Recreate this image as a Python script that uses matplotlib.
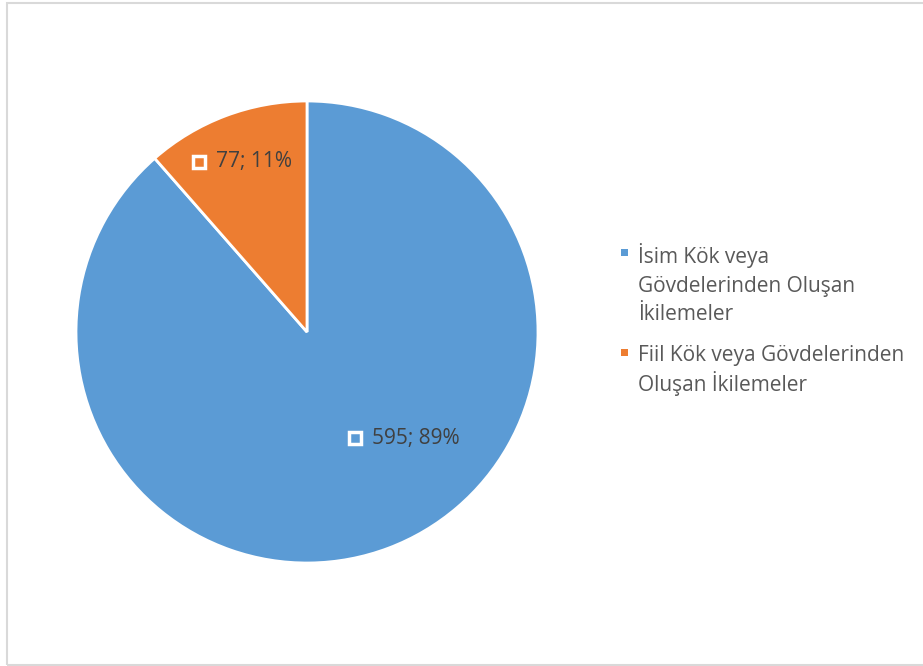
import matplotlib.pyplot as plt
from matplotlib.patches import Rectangle
import numpy as np

# Veriler
categories = ["İsim Kök veya Gövdelerinden Oluşan İkilemeler",
              "Fiil Kök veya Gövdelerinden Oluşan İkilemeler"]
legend_lines = [["İsim Kök veya", "Gövdelerinden Oluşan", "İkilemeler"],
                ["Fiil Kök veya Gövdelerinden", "Oluşan İkilemeler"]]
values = [595, 77]
colors = ["#5B9BD5", "#ED7D31"]

# Etiket yerleri (açı derece, yarıçap birimi)
label_pos = [(-65.6, 0.504), (122.4, 0.872)]

plt.rcParams['font.family'] = ['Open Sans', 'DejaVu Sans']

W, H = 923, 666
fig = plt.figure(figsize=(W / 100, H / 100), dpi=100)

# Dış çerçeve
fig.patches.append(Rectangle((7 / W, 1 / H), 1.0, (663 - 1) / H, transform=fig.transFigure,
                             fill=False, edgecolor="#D9D9D9", linewidth=1.5))

cx, cy, r = 307, 332, 231
ax = fig.add_axes([(cx - r) / W, (H - cy - r) / H, 2 * r / W, 2 * r / H])
wedges, _ = ax.pie(values, colors=colors, startangle=90, counterclock=False,
                   radius=1, wedgeprops=dict(edgecolor="white", linewidth=2))
ax.set_xlim(-1, 1)
ax.set_ylim(-1, 1)
ax.set_aspect("equal")
ax.axis("off")

total = sum(values)
for v, c, (ang, d) in zip(values, colors, label_pos):
    x = d * np.cos(np.radians(ang))
    y = d * np.sin(np.radians(ang))
    ax.plot(x, y, marker="s", markersize=8, markerfacecolor=c,
            markeredgecolor="white", markeredgewidth=2.5)
    ax.annotate(f"{v}; {round(v / total * 100)}%", (x, y), xytext=(12, 0),
                textcoords="offset points", ha="left", va="center",
                fontsize=15, color="#404040")

# Lejant
lx = 624
first = [255, 354]
step = 29
for lines, c, ty in zip(legend_lines, colors, first):
    fig.patches.append(Rectangle(((lx - 3.5) / W, (H - ty + 2 - 3.5) / H), 7 / W, 7 / H,
                                 transform=fig.transFigure, facecolor=c, edgecolor="none"))
    for i, line in enumerate(lines):
        fig.text((lx + 14) / W, (H - ty - i * step - 7.5) / H, line, ha="left",
                 va="baseline", fontsize=15, color="#595959",
                 transform=fig.transFigure)

fig.savefig("out.png", dpi=100)
